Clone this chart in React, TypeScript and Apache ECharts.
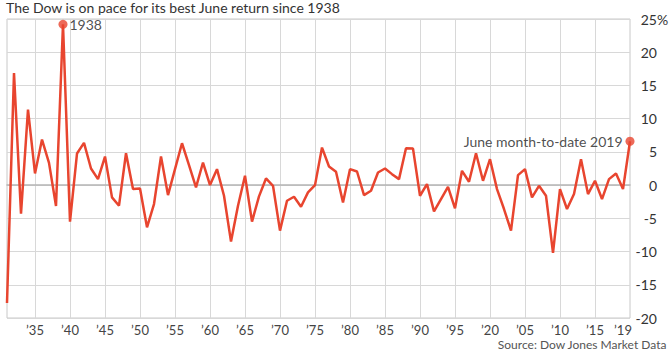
import React, { useEffect, useRef } from "react";
import * as echarts from "echarts";

const TITLE = "The Dow is on pace for its best June return since 1938";
const SOURCE = "Source: Dow Jones Market Data";
const FIRST_YEAR = 1930;
// June return (%) of the Dow, one value per year from 1930 to 2019
const juneReturns = [
  -17.75, 16.85, -4.3, 11.35, 1.75, 6.85, 3.35, -3.15, 24.2, -5.5,
  4.75, 6.35, 2.5, 0.9, 4.3, -1.85, -3.1, 4.8, -0.6, -0.5,
  -6.35, -2.85, 4.3, -1.5, 2.4, 6.3, 3.0, -0.35, 3.4, 0.0,
  2.4, -1.6, -8.5, -3.1, 1.4, -5.5, -1.7, 1.0, -0.1, -6.85,
  -2.35, -1.75, -3.25, -1.1, 0.0, 5.65, 2.8, 2.0, -2.6, 2.4,
  2.05, -1.5, -0.85, 1.9, 2.5, 1.65, 0.9, 5.55, 5.5, -1.6,
  0.15, -3.95, -2.1, -0.25, -3.5, 2.15, 0.5, 4.8, 0.65, 3.9,
  -0.6, -3.6, -6.85, 1.5, 2.4, -1.85, -0.1, -1.6, -10.2, -0.6,
  -3.6, -1.35, 3.9, -1.35, 0.65, -2.1, 0.9, 1.75, -0.6, 6.6,
];
// where the x-axis grid lines / labels sit (in data years) and their text
const gridYears = [1934, 1939, 1944, 1949, 1954, 1959, 1964, 1969, 1974, 1979, 1984, 1989, 1994, 1999, 2004, 2009, 2014];
const labelYears = [1934, 1939, 1944, 1949, 1954, 1959, 1964, 1969, 1974, 1979, 1984, 1989, 1994, 1999, 2004, 2009, 2014, 2018];
const labelTexts = ["’35", "’40", "’45", "’50", "’55", "’60", "’65", "’70", "’75", "’80", "’85", "’90", "’95", "’20", "’05", "’10", "’15", "’19"];
const highlightYears = [1938, 2019];
const highlightLabels = ["1938", "June month-to-date 2019"];

export default function App() {
  const ref = useRef<HTMLDivElement>(null);
  useEffect(() => {
    document.body.style.margin = "0";
    if (!ref.current) return;
    const chart = echarts.init(ref.current, undefined, { renderer: "svg" });
    const lineData = juneReturns.map((v, i) => [FIRST_YEAR + i, v]);
    const pointData = highlightYears.map((y, k) => ({
      value: [y, juneReturns[y - FIRST_YEAR]],
      label: {
        show: true,
        formatter: highlightLabels[k],
        position: k === 0 ? "right" : "left",
        distance: k === 0 ? 2 : 3,
      },
    }));
    const font = "Lato, 'Noto Sans', sans-serif";
    chart.setOption({
      animation: false,
      textStyle: { fontFamily: font },
      grid: { left: 7, right: 40, top: 19, bottom: 32, show: true, borderColor: "#c8c8c8", borderWidth: 1 },
      xAxis: {
        type: "value",
        min: FIRST_YEAR,
        max: FIRST_YEAR + juneReturns.length - 1,
        axisLine: { show: true, lineStyle: { color: "#b5b5b5", width: 1.5 } },
        axisTick: { show: false, customValues: gridYears },
        splitLine: { show: true, lineStyle: { color: "#d8d8d8", width: 1 } },
        axisLabel: {
          customValues: labelYears,
          formatter: (v: number) => labelTexts[labelYears.indexOf(Math.round(v))] ?? "",
          color: "#444",
          fontSize: 13,
          margin: 5,
          fontFamily: font,
        },
      },
      yAxis: {
        type: "value",
        position: "right",
        min: -20,
        max: 25,
        interval: 5,
        axisLine: { show: false },
        axisTick: { show: false },
        splitLine: { show: true, lineStyle: { color: "#d8d8d8", width: 1 } },
        axisLabel: {
          align: "right",
          margin: 27,
          color: "#333",
          fontSize: 14,
          fontFamily: font,
        },
      },
      graphic: [
        {
          type: "text",
          left: 6,
          top: 0,
          style: { text: TITLE, fontSize: 14, fill: "#333", fontFamily: font },
        },
        {
          type: "text",
          right: 3,
          bottom: 0,
          style: { text: SOURCE, fontSize: 12, fill: "#555", fontFamily: font },
        },
        {
          type: "text",
          x: 657,
          y: 19,
          style: { text: "%", fontSize: 14, fill: "#333", fontFamily: font, verticalAlign: "middle" },
        },
      ],
      series: [
        {
          type: "line",
          data: lineData,
          showSymbol: false,
          lineStyle: { color: "#e8452f", width: 2.5 },
          z: 2,
        },
        {
          type: "scatter",
          data: pointData,
          symbol: "circle",
          symbolSize: 9,
          itemStyle: { color: "#e8452f" },
          label: { color: "#222", fontSize: 14, fontFamily: font },
          z: 3,
        },
      ],
    });
    return () => chart.dispose();
  }, []);
  return <div ref={ref} style={{ width: 670, height: 350 }} />;
}
